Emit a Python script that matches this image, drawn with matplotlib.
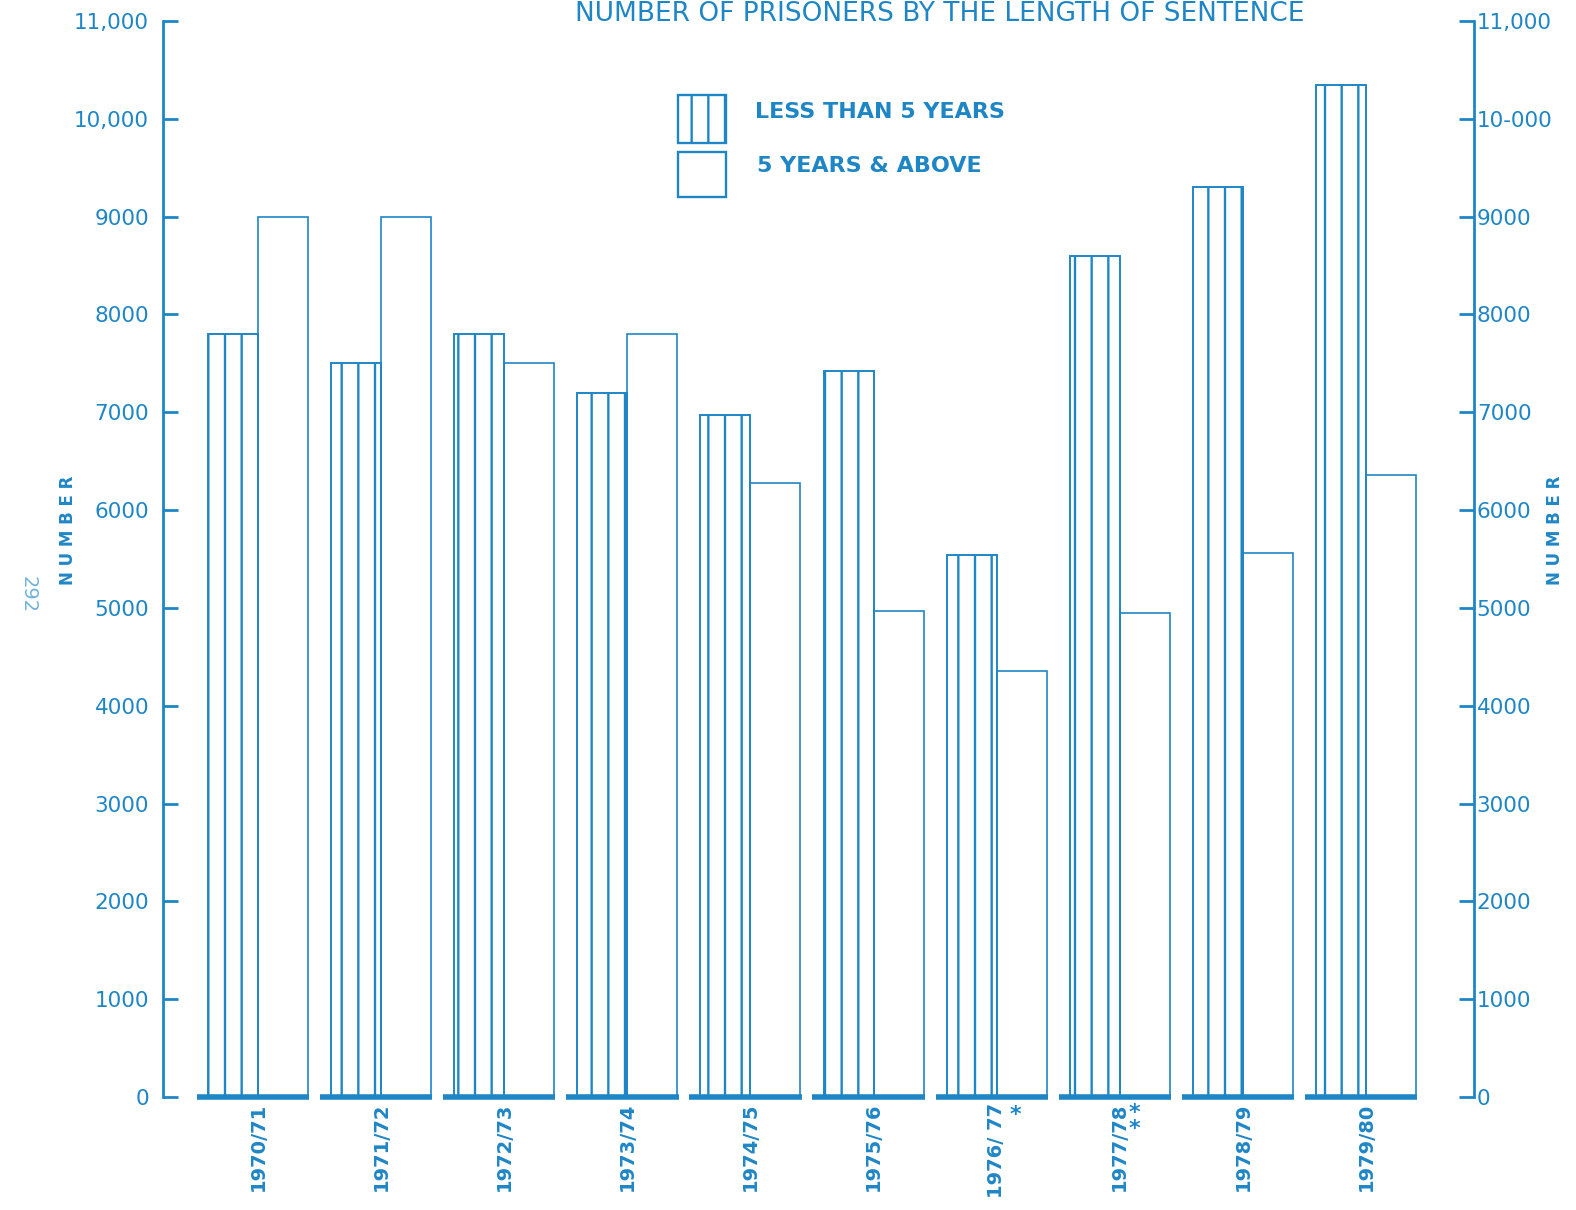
import matplotlib
matplotlib.use("Agg")
import matplotlib.pyplot as plt
from matplotlib.patches import Rectangle
from matplotlib.transforms import blended_transform_factory
import numpy as np

# data
years = ["1970/71", "1971/72", "1972/73", "1973/74", "1974/75",
         "1975/76", "1976/ 77", "1977/78", "1978/79", "1979/80"]
less_than_5 = [7800, 7500, 7800, 7200, 6970, 7420, 5540, 8600, 9300, 10350]
five_and_above = [9000, 9000, 7500, 7800, 6280, 4970, 4350, 4950, 5560, 6360]

yticks = [0, 1000, 2000, 3000, 4000, 5000, 6000, 7000, 8000, 9000, 10000, 11000]
left_labels = ["0", "1000", "2000", "3000", "4000", "5000", "6000",
               "7000", "8000", "9000", "10,000", "11,000"]
right_labels = ["0", "1000", "2000", "3000", "4000", "5000", "6000",
                "7000", "8000", "9000", "10-000", "11,000"]
legend_labels = ["LESS THAN 5 YEARS", "5 YEARS & ABOVE"]

blue = "#1f86c6"
plt.rcParams["hatch.linewidth"] = 1.7

W, H = 1576, 1210
fig = plt.figure(figsize=(W / 100, H / 100), dpi=100)
ax = fig.add_axes([163 / W, 1 - 1097 / H, (1474 - 163) / W, (1097 - 21) / H])

x = np.arange(len(years))
w = 0.406
ax.bar(x - w / 2, less_than_5, w, fill=False, edgecolor=blue, hatch="|", lw=1.4)
ax.bar(x + w / 2, five_and_above, w, fill=False, edgecolor=blue, lw=1.2)
ax.hlines(np.zeros(len(x)), x - w - 0.09, x + w + 0.01, lw=4, color=blue,
          clip_on=False)

ax.set_xlim(-0.772, 9.878)
ax.set_ylim(0, 11000)

for s in ["top", "bottom", "right"]:
    ax.spines[s].set_visible(False)
ax.spines["left"].set_color(blue)
ax.spines["left"].set_linewidth(2)

ax.set_yticks(yticks)
ax.set_yticklabels(left_labels)
ax.tick_params(axis="y", direction="in", length=11, width=2, color=blue,
               labelcolor=blue, labelsize=15.5, pad=10)
ax.set_xticks(x)
ax.set_xticklabels(years, rotation=90, fontsize=14, fontweight="bold", color=blue)
ax.tick_params(axis="x", length=0, pad=4)

ax2 = ax.twinx()
ax2.set_ylim(0, 11000)
for s in ["top", "bottom", "left"]:
    ax2.spines[s].set_visible(False)
ax2.spines["right"].set_color(blue)
ax2.spines["right"].set_linewidth(2)
ax2.set_yticks(yticks)
ax2.set_yticklabels(right_labels)
ax2.tick_params(axis="y", direction="in", length=11, width=2, color=blue,
                labelcolor=blue, labelsize=15.5, pad=2)

# asterisks on 1976/77 and 1977/78
tr = blended_transform_factory(ax.transData, ax.transAxes)
ax.text(6.15, -0.017, "*", transform=tr, color=blue, fontsize=16,
        fontweight="bold", ha="center", va="center")
ax.text(7.12, -0.022, "*\n*", transform=tr, color=blue, fontsize=16,
        fontweight="bold", ha="center", va="center", linespacing=0.75)

# legend drawn by hand, boxes as in the original
fig.add_artist(Rectangle((678 / W, 1 - 143 / H), 48 / W, 48 / H,
                         transform=fig.transFigure, fill=False,
                         edgecolor=blue, hatch="|", lw=1.7))
fig.add_artist(Rectangle((678 / W, 1 - 197 / H), 48 / W, 45 / H,
                         transform=fig.transFigure, fill=False,
                         edgecolor=blue, lw=1.7))
fig.text(755 / W, 1 - 112 / H, legend_labels[0], ha="left", va="center",
         fontsize=16, fontweight="bold", color=blue)
fig.text(757 / W, 1 - 166 / H, legend_labels[1], ha="left", va="center",
         fontsize=16, fontweight="bold", color=blue)

fig.text(940 / W, 1 - 1 / H, "NUMBER OF PRISONERS BY THE LENGTH OF SENTENCE",
         ha="center", va="top", fontsize=19, color=blue)
fig.text(68 / W, 1 - 530 / H, "N U M B E R", rotation=90, ha="center",
         va="center", fontsize=12, fontweight="bold", color=blue)
fig.text(1555 / W, 1 - 530 / H, "N U M B E R", rotation=90, ha="center",
         va="center", fontsize=12, fontweight="bold", color=blue)
fig.text(28 / W, 1 - 595 / H, "292", rotation=270, ha="center", va="center",
         fontsize=14, color="#6fb3dd")

fig.savefig("out.png", dpi=100)
